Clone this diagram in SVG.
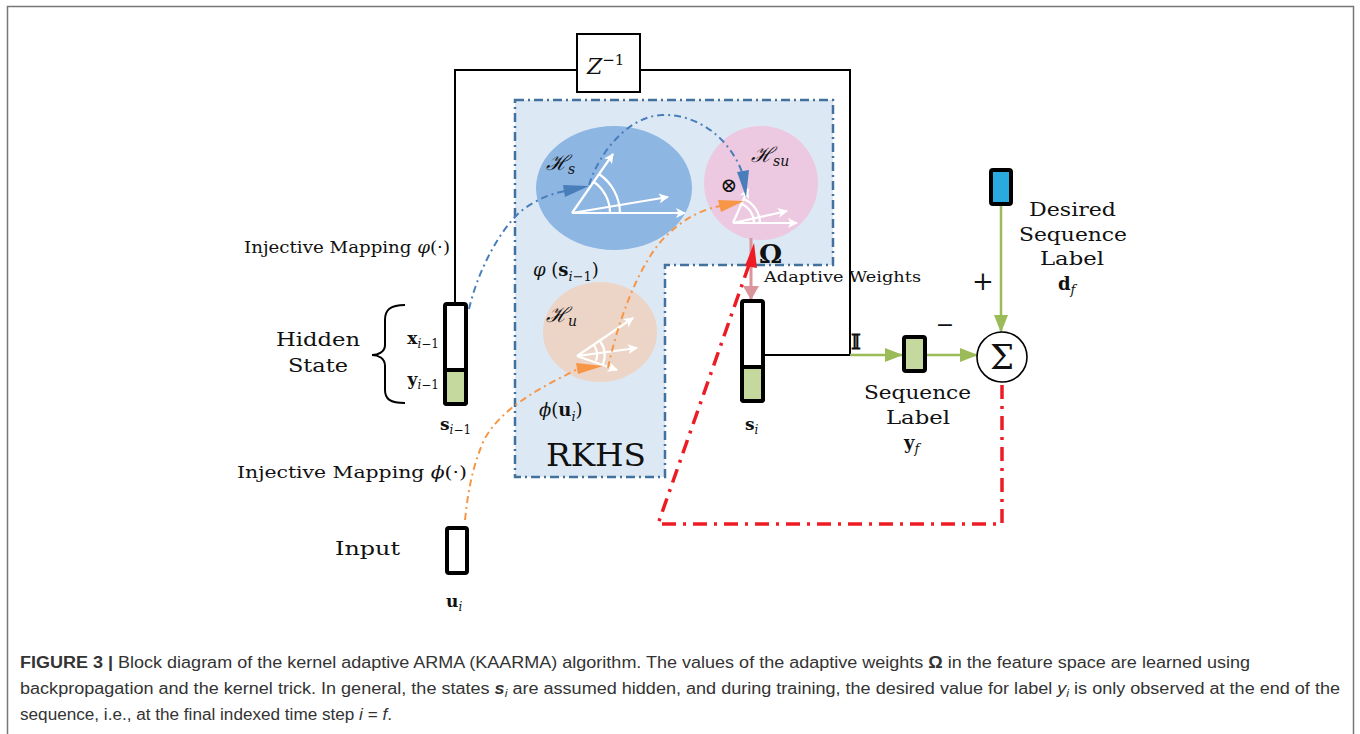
<svg xmlns="http://www.w3.org/2000/svg" width="1360" height="734" viewBox="0 0 1360 734">
<defs>
<style>
.t{font-family:"DejaVu Serif","Liberation Serif",serif;fill:#111}
.lab{font-size:18px}
.it{font-style:italic}
.b{font-weight:bold}
.cap{font-family:"Liberation Sans",Arial,sans-serif;font-size:16px;fill:#333}
.box{stroke:#000;stroke-width:4;}
.wline{stroke:#fff;stroke-width:2.2;fill:none}
.blk{stroke:#000;stroke-width:2;fill:none}
.grn{stroke:#9bbb59;stroke-width:2.5;fill:none}
</style>
<marker id="wa" markerWidth="10" markerHeight="10" refX="9" refY="5" orient="auto" markerUnits="userSpaceOnUse">
<path d="M0,0 L10,5 L0,10 L2.5,5 Z" fill="#fff"/>
</marker>
<marker id="ga" markerWidth="18" markerHeight="14" refX="17" refY="7" orient="auto" markerUnits="userSpaceOnUse">
<path d="M0,0 L18,7 L0,14 Z" fill="#9bbb59"/>
</marker>
<marker id="pa" markerWidth="14" markerHeight="16" refX="13" refY="8" orient="auto" markerUnits="userSpaceOnUse">
<path d="M0,0 L14,8 L0,16 Z" fill="#d9959b"/>
</marker>
</defs>
<rect x="7.5" y="6.5" width="1346" height="740" fill="#fff" stroke="#777" stroke-width="1.5"/>

<g id="rkhs">
<path d="M515,100 H833 V265 H665 V477 H515 Z" fill="#dce9f5" stroke="#41719c" stroke-width="2.5" stroke-dasharray="9,4,2,4"/>
<text class="t" x="596" y="466" font-size="31" text-anchor="middle" textLength="100" lengthAdjust="spacingAndGlyphs">RKHS</text>
<text class="t" x="533" y="276" font-size="18"><tspan class="it">φ</tspan> (<tspan class="b">s</tspan><tspan class="it" font-size="13" dy="5">i</tspan><tspan font-size="13">−1</tspan><tspan dy="-5">)</tspan></text>
<text class="t" x="539" y="416" font-size="18"><tspan class="it">ϕ</tspan>(<tspan class="b">u</tspan><tspan class="it" font-size="13" dy="5">i</tspan><tspan dy="-5">)</tspan></text>
</g>

<g id="Hs">
<ellipse cx="614" cy="188" rx="78" ry="62" fill="#8db6e2"/>
<line class="wline" x1="572" y1="213" x2="685" y2="213" marker-end="url(#wa)"/>
<line class="wline" x1="572" y1="213" x2="668" y2="197" marker-end="url(#wa)"/>
<line class="wline" x1="572" y1="213" x2="613" y2="154" marker-end="url(#wa)"/>
<path class="wline" d="M620,213 A48,48 0 0 0 599,174"/>
<path class="wline" d="M610,213 A38,38 0 0 0 594,182"/>
<text class="t it" x="546" y="170" font-size="21" font-family="Liberation Serif">ℋ<tspan font-size="14" dy="4">s</tspan></text>
</g>

<g id="Hsu">
<ellipse cx="761" cy="183" rx="57" ry="57" fill="#ecc9e0"/>
<line class="wline" x1="733" y1="223" x2="797" y2="223" marker-end="url(#wa)"/>
<line class="wline" x1="733" y1="223" x2="787" y2="211" marker-end="url(#wa)"/>
<line class="wline" x1="733" y1="223" x2="748" y2="189" marker-end="url(#wa)"/>
<path class="wline" d="M760,223 A27,27 0 0 0 744,199"/>
<path class="wline" d="M754,223 A21,21 0 0 0 742,204"/>
<text class="t it" x="751" y="162" font-size="21" font-family="Liberation Serif">ℋ<tspan font-size="14" dy="4">su</tspan></text>
<text class="t" x="729" y="192" font-size="20" text-anchor="middle" font-family="DejaVu Sans">⊗</text>
</g>

<g id="Hu">
<ellipse cx="600" cy="332" rx="57" ry="50" fill="#ecd5c6"/>
<line class="wline" x1="577" y1="356" x2="633" y2="318" marker-end="url(#wa)"/>
<line class="wline" x1="577" y1="356" x2="637" y2="348" marker-end="url(#wa)"/>
<line class="wline" x1="577" y1="356" x2="617" y2="370" marker-end="url(#wa)"/>
<path class="wline" d="M600,341 A24,24 0 0 1 603,364"/>
<path class="wline" d="M594,345 A18,18 0 0 1 596,361"/>
<text class="t it" x="546" y="322" font-size="21" font-family="Liberation Serif">ℋ<tspan font-size="14" dy="4">u</tspan></text>
</g>

<g id="connectors">
<path class="blk" d="M455,305 V70 H577 M640,70 H850 V355 H765"/>
<path d="M469,309 C478,270 500,230 520,212 C535,200 552,193 566,191" fill="none" stroke="#4a7ebb" stroke-width="2" stroke-dasharray="7,4,2,4"/>
<path d="M563,185 L589,186 L565,197 Z" fill="#4a7ebb"/>
<path d="M589,185 C600,150 630,116 662,115 C700,114 730,140 742,172" fill="none" stroke="#4a7ebb" stroke-width="2" stroke-dasharray="7,4,2,4"/>
<path d="M737,172 L746,197 L749,170 Z" fill="#4a7ebb"/>
<path d="M465,520 C468,490 473,465 484,440 C500,410 535,390 578,369" fill="none" stroke="#f79646" stroke-width="2" stroke-dasharray="7,4,2,4"/>
<path d="M576,363 L603,366 L578,374 Z" fill="#f79646"/>
<path d="M608,368 C618,320 640,262 665,237 C682,220 700,210 720,206" fill="none" stroke="#f79646" stroke-width="2" stroke-dasharray="7,4,2,4"/>
<path d="M718,200 L744,201 L721,212 Z" fill="#f79646"/>
<line x1="751" y1="238" x2="751" y2="299" stroke="#d9959b" stroke-width="3" marker-end="url(#pa)"/>
<path d="M1002,385 V524 H658 L750,262" fill="none" stroke="#ed1c24" stroke-width="3.5" stroke-dasharray="14,7,3,7"/>
<path d="M745,266 L754,243 L757,268 Z" fill="#ed1c24"/>
<line class="grn" x1="850" y1="355" x2="902" y2="355" marker-end="url(#ga)"/>
<line class="grn" x1="927" y1="355" x2="977" y2="355" marker-end="url(#ga)"/>
<line class="grn" x1="1001" y1="205" x2="1001" y2="332" marker-end="url(#ga)"/>
</g>

<g id="z">
<rect x="577" y="34" width="63" height="58" fill="#fff" stroke="#000" stroke-width="2"/>
<text class="t it" x="587" y="74" font-size="22">Z<tspan font-style="normal" font-size="15" dy="-9">−1</tspan></text>
</g>

<g id="s_prev">
<rect x="445" y="304" width="21" height="100" rx="2" fill="#fff" class="box"/>
<rect x="445" y="370" width="21" height="34" rx="2" fill="#c5d89d" class="box"/>
<path d="M405,305 C390,305 385,310 385,320 V345 C385,352 378,355 372,355 C378,355 385,358 385,366 V390 C385,399 390,403 405,403" fill="none" stroke="#000" stroke-width="2"/>
<text class="t b" x="439" y="344" font-size="17" text-anchor="end">x<tspan class="it" font-weight="normal" font-size="12" dy="4">i</tspan><tspan font-weight="normal" font-size="12">−1</tspan></text>
<text class="t b" x="439" y="385" font-size="17" text-anchor="end">y<tspan class="it" font-weight="normal" font-size="12" dy="4">i</tspan><tspan font-weight="normal" font-size="12">−1</tspan></text>
<text class="t b" x="440" y="430" font-size="17">s<tspan class="it" font-weight="normal" font-size="12" dy="4">i</tspan><tspan font-weight="normal" font-size="12">−1</tspan></text>
<text class="t lab" x="276" y="346" textLength="84" lengthAdjust="spacingAndGlyphs">Hidden</text>
<text class="t lab" x="288" y="372" textLength="60" lengthAdjust="spacingAndGlyphs">State</text>
<text class="t" x="244" y="253" font-size="16" textLength="206" lengthAdjust="spacingAndGlyphs">Injective Mapping <tspan class="it">φ</tspan>(·)</text>
</g>

<g id="s_i">
<rect x="742" y="301" width="21" height="100" rx="2" fill="#fff" class="box"/>
<rect x="742" y="367" width="21" height="34" rx="2" fill="#c5d89d" class="box"/>
<text class="t b" x="745" y="430" font-size="17">s<tspan class="it" font-weight="normal" font-size="12" dy="4">i</tspan></text>
<text class="t b" x="759" y="263" font-size="26">Ω</text>
<text class="t" x="764" y="282" font-size="14" textLength="157" lengthAdjust="spacingAndGlyphs">Adaptive Weights</text>
<text class="t b" x="851" y="349" font-size="21">𝕀</text>
</g>

<g id="input">
<rect x="447" y="528" width="20" height="45" rx="2" fill="#fff" class="box"/>
<text class="t lab" x="335" y="555" textLength="65" lengthAdjust="spacingAndGlyphs">Input</text>
<text class="t b" x="446" y="607" font-size="17">u<tspan class="it" font-weight="normal" font-size="12" dy="4">i</tspan></text>
<text class="t" x="237" y="478" font-size="16" textLength="230" lengthAdjust="spacingAndGlyphs">Injective Mapping <tspan class="it">ϕ</tspan>(·)</text>
</g>

<g id="yf">
<rect x="904" y="337" width="21" height="34" rx="2" fill="#c5d89d" class="box"/>
<text class="t lab" x="864" y="399" textLength="107" lengthAdjust="spacingAndGlyphs">Sequence</text>
<text class="t lab" x="886" y="424" textLength="64" lengthAdjust="spacingAndGlyphs">Label</text>
<text class="t b" x="904" y="449" font-size="18">y<tspan class="it" font-weight="normal" font-size="13" dy="4">f</tspan></text>
</g>

<g id="sigma">
<circle cx="1002" cy="357" r="25" fill="#fff" stroke="#000" stroke-width="1.6"/>
<text class="t" x="1002" y="369" font-size="34" text-anchor="middle">Σ</text>
<text class="t" x="945" y="332" font-size="22" text-anchor="middle">−</text>
<text class="t" x="983" y="290" font-size="26" text-anchor="middle">+</text>
</g>

<g id="df">
<rect x="991" y="170" width="20" height="34" rx="2" fill="#29abe2" class="box"/>
<text class="t lab" x="1029" y="216" textLength="87" lengthAdjust="spacingAndGlyphs">Desired</text>
<text class="t lab" x="1019" y="241" textLength="108" lengthAdjust="spacingAndGlyphs">Sequence</text>
<text class="t lab" x="1040" y="265" textLength="64" lengthAdjust="spacingAndGlyphs">Label</text>
<text class="t b" x="1058" y="290" font-size="18">d<tspan class="it" font-weight="normal" font-size="13" dy="4">f</tspan></text>
</g>

<g id="caption">
<text class="cap" x="20" y="668" textLength="1230" lengthAdjust="spacingAndGlyphs"><tspan font-weight="bold">FIGURE 3 |</tspan> Block diagram of the kernel adaptive ARMA (KAARMA) algorithm. The values of the adaptive weights <tspan font-weight="bold">Ω</tspan> in the feature space are learned using</text>
<text class="cap" x="20" y="694" textLength="1320" lengthAdjust="spacingAndGlyphs">backpropagation and the kernel trick. In general, the states <tspan font-weight="bold" font-style="italic">s</tspan><tspan font-style="italic" font-size="11" dy="3">i</tspan><tspan dy="-3"> are assumed hidden, and during training, the desired value for label </tspan><tspan font-style="italic">y</tspan><tspan font-style="italic" font-size="11" dy="3">i</tspan><tspan dy="-3"> is only observed at the end of the</tspan></text>
<text class="cap" x="20" y="720" textLength="372" lengthAdjust="spacingAndGlyphs">sequence, i.e., at the final indexed time step <tspan font-style="italic">i</tspan> = <tspan font-style="italic">f</tspan>.</text>
</g>
</svg>
